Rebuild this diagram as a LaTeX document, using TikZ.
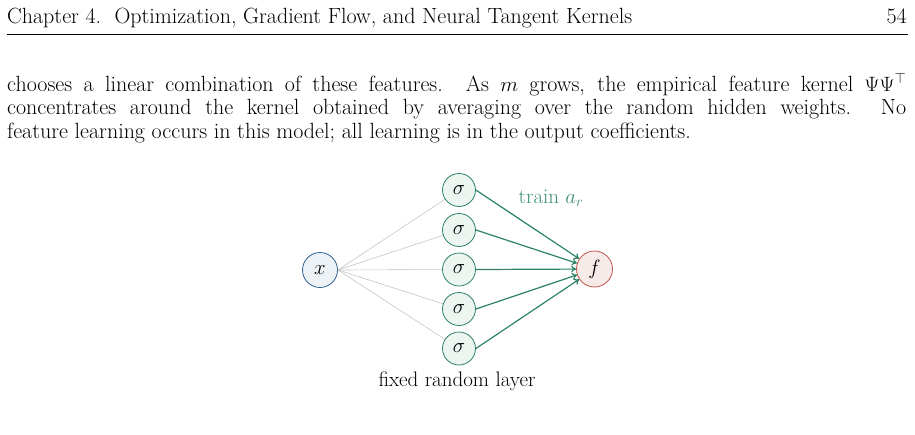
\documentclass[tikz,border=0pt]{standalone}
\usepackage{amsmath,amssymb}
\usepackage{tikz}
\usetikzlibrary{arrows.meta, calc}
\definecolor{inblue}{HTML}{2F5E8E}
\definecolor{inbluefill}{HTML}{EDF2F7}
\definecolor{hidgreen}{HTML}{2E8264}
\definecolor{hidfill}{HTML}{EDF5F1}
\definecolor{outred}{HTML}{C0544A}
\definecolor{outfill}{HTML}{F7EBEA}
\definecolor{fixedgray}{HTML}{C4C4C4}
\definecolor{trainlabel}{HTML}{3D8F70}

\begin{document}
\begin{tikzpicture}[
    x=1pt, y=-1pt,
    pagefont/.style={font=\fontsize{22}{23.5}\selectfont},
    unit/.style={circle, line width=0.8pt, minimum size=33pt, inner sep=1pt,
        font=\fontsize{21}{24}\selectfont},
    fixededge/.style={fixedgray, line width=0.6pt},
    trainedge/.style={hidgreen, line width=1.2pt, -{To[length=5pt, width=7pt]}},
]
\useasboundingbox (0,0) rectangle (915,434);

% =============================================
% PAGE HEAD – running title, number and rule
% =============================================
\node[pagefont, anchor=base west, inner sep=0pt] (head) at (7,23)
    {Chapter 4.\ \ Optimization, Gradient Flow, and Neural Tangent Kernels};
\node[pagefont, anchor=base east, inner sep=0pt] (pagenum) at (907,23) {54};
\draw[line width=0.6pt] (7,34) -- (908,34);

% =============================================
% BODY TEXT – end of the paragraph
% =============================================
\node[pagefont, anchor=base west, inner sep=0pt, text width=899pt, align=justify] (para) at (7,91) {%
  chooses a linear combination of these features. As $m$ grows, the empirical feature kernel $\Psi\Psi^{\top}$\linebreak
  concentrates around the kernel obtained by averaging over the random hidden weights. No\linebreak
  feature learning occurs in this model; all learning is in the output coefficients.%
};

% =============================================
% NETWORK – input, random features, output
% =============================================
% Input
\node[unit, minimum size=35pt, draw=inblue, fill=inbluefill] (x) at (320,270) {$x$};
% Output
\node[unit, minimum size=36pt, draw=outred, fill=outfill] (f) at (594.5,269) {$f$};
% Hidden units, weights fixed at random
\foreach \i/\yy in {1/190, 2/230, 3/269.5, 4/309, 5/348.5} {
  \node[unit, draw=hidgreen, fill=hidfill] (s\i) at (459,\yy) {$\sigma$};
  \draw[fixededge] (x.east) -- (s\i);
  \draw[trainedge] (s\i.east) -- (f);
}

% Labels
\node[trainlabel, font=\fontsize{21}{24}\selectfont] (train) at (551,198) {train $a_r$};
\node[font=\fontsize{21}{24}\selectfont] (fixedlab) at (457,381) {fixed random layer};

\end{tikzpicture}
\end{document}
